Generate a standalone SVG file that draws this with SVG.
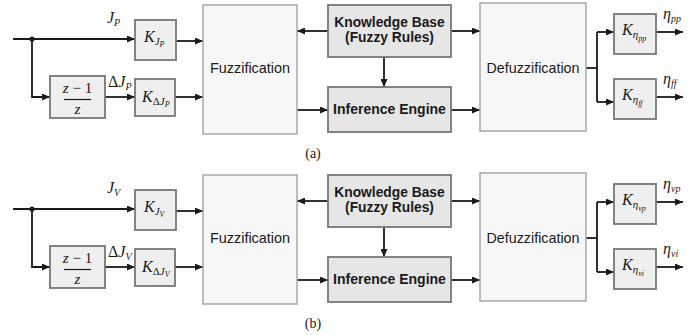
<svg xmlns="http://www.w3.org/2000/svg" width="692" height="335" viewBox="0 0 692 335">
<style>
.bg{fill:#ffffff}
.big{fill:#f7f7f7;stroke:#a8a8a8;stroke-width:1.5}
.mid{fill:#e6e6e6;stroke:#777;stroke-width:1.8}
.gain{fill:#efefef;stroke:#777;stroke-width:1.8}
.ln{fill:none;stroke:#1a1a1a;stroke-width:1.8}
.sans{font-family:"Liberation Sans",Arial,sans-serif;fill:#1a1a1a}
.bold{font-family:"Liberation Sans",Arial,sans-serif;font-weight:bold;fill:#1a1a1a}
.math{font-family:"Liberation Serif","Times New Roman",serif;font-style:italic;fill:#1a1a1a}
.cap{font-family:"Liberation Serif","Times New Roman",serif;fill:#1a1a1a;font-size:14px}
</style>
<defs>
<marker id="ah" markerWidth="8" markerHeight="7" refX="8" refY="3.5" orient="auto" markerUnits="userSpaceOnUse">
<path d="M0,0 L8,3.5 L0,7 z" fill="#1a1a1a"/>
</marker>
</defs>
<rect class="bg" x="0" y="0" width="692" height="335"/>

<g id="panel-a">
<g id="connectors-a">
<path class="ln" d="M13,39 H135" marker-end="url(#ah)"/>
<circle cx="32" cy="39" r="2.6" fill="#1a1a1a"/>
<path class="ln" d="M32,39 V97 H50" marker-end="url(#ah)"/>
<path class="ln" d="M105,97 H135" marker-end="url(#ah)"/>
<path class="ln" d="M176,41 H203" marker-end="url(#ah)"/>
<path class="ln" d="M175,97 H203" marker-end="url(#ah)"/>
<path class="ln" d="M328,31 H297" marker-end="url(#ah)"/>
<path class="ln" d="M451,31 H480" marker-end="url(#ah)"/>
<path class="ln" d="M384,57 V87" marker-end="url(#ah)"/>
<path class="ln" d="M297,110 H328" marker-end="url(#ah)"/>
<path class="ln" d="M451,110 H480" marker-end="url(#ah)"/>
<path class="ln" d="M586,68 H597"/>
<path class="ln" d="M597,32 V102"/>
<path class="ln" d="M597,32 H614" marker-end="url(#ah)"/>
<path class="ln" d="M597,102 H614" marker-end="url(#ah)"/>
<path class="ln" d="M656,32 H683" marker-end="url(#ah)"/>
<path class="ln" d="M656,97 H683" marker-end="url(#ah)"/>
</g>
<g id="lbl-jp"><text class="math" x="107" y="23" font-size="16">J<tspan font-size="10" dy="3">P</tspan></text></g>
<g id="lbl-djp"><text class="math" x="108" y="87" font-size="16"><tspan font-style="normal">Δ</tspan>J<tspan font-size="10" dy="3">P</tspan></text></g>
<g id="lbl-etapp"><text class="math" x="663" y="19" font-size="16">η<tspan font-size="10" dy="3">pp</tspan></text></g>
<g id="lbl-etaff"><text class="math" x="663" y="84" font-size="16">η<tspan font-size="10" dy="3">ff</tspan></text></g>

<g id="k-jp"><rect class="gain" x="135" y="20" width="41" height="40"/>
<text class="math" x="144" y="42" font-size="16">K<tspan font-size="11" dy="3">J</tspan><tspan font-size="8" dy="2">P</tspan></text></g>
<g id="zdiff-a"><rect class="gain" x="50" y="76" width="55" height="42"/>
<text class="math" x="77.5" y="93" font-size="15" text-anchor="middle">z<tspan font-style="normal"> − 1</tspan></text>
<line x1="64" y1="99.5" x2="91" y2="99.5" stroke="#1a1a1a" stroke-width="1.2"/>
<text class="math" x="77.5" y="114" font-size="15" text-anchor="middle">z</text></g>
<g id="k-djp"><rect class="gain" x="135" y="79" width="40" height="37"/>
<text class="math" x="142" y="102" font-size="16">K<tspan font-size="11" dy="3" font-style="normal">Δ</tspan><tspan font-size="11">J</tspan><tspan font-size="8" dy="2">P</tspan></text></g>
<g id="fuzz-a"><rect class="big" x="203" y="5" width="94" height="129"/>
<text class="sans" x="250" y="73" font-size="14.4" text-anchor="middle">Fuzzification</text></g>
<g id="kb-a"><rect class="mid" x="328" y="5" width="123" height="52"/>
<text class="bold" x="389.5" y="27" font-size="13.8" text-anchor="middle">Knowledge Base</text>
<text class="bold" x="389.5" y="42" font-size="13.8" text-anchor="middle">(Fuzzy Rules)</text></g>
<g id="ie-a"><rect class="mid" x="328" y="87" width="123" height="45"/>
<text class="bold" x="389.5" y="114" font-size="14" text-anchor="middle">Inference Engine</text></g>
<g id="defuzz-a"><rect class="big" x="480" y="3" width="106" height="128"/>
<text class="sans" x="533" y="73" font-size="14.3" text-anchor="middle">Defuzzification</text></g>
<g id="k-etapp"><rect class="gain" x="614" y="14" width="42" height="40"/>
<text class="math" x="622" y="35" font-size="16">K<tspan font-size="11" dy="3">η</tspan><tspan font-size="8" dy="3">pp</tspan></text></g>
<g id="k-etaff"><rect class="gain" x="614" y="79" width="42" height="40"/>
<text class="math" x="622" y="100" font-size="16">K<tspan font-size="11" dy="3">η</tspan><tspan font-size="8" dy="3">ff</tspan></text></g>
<text class="cap" x="313" y="158" text-anchor="middle">(a)</text>
</g>

<g id="panel-b" transform="translate(0,170)">
<g id="connectors-b">
<path class="ln" d="M13,39 H135" marker-end="url(#ah)"/>
<circle cx="32" cy="39" r="2.6" fill="#1a1a1a"/>
<path class="ln" d="M32,39 V97 H50" marker-end="url(#ah)"/>
<path class="ln" d="M105,97 H135" marker-end="url(#ah)"/>
<path class="ln" d="M176,41 H203" marker-end="url(#ah)"/>
<path class="ln" d="M175,97 H203" marker-end="url(#ah)"/>
<path class="ln" d="M328,31 H297" marker-end="url(#ah)"/>
<path class="ln" d="M451,31 H480" marker-end="url(#ah)"/>
<path class="ln" d="M384,57 V87" marker-end="url(#ah)"/>
<path class="ln" d="M297,110 H328" marker-end="url(#ah)"/>
<path class="ln" d="M451,110 H480" marker-end="url(#ah)"/>
<path class="ln" d="M586,68 H597"/>
<path class="ln" d="M597,32 V102"/>
<path class="ln" d="M597,32 H614" marker-end="url(#ah)"/>
<path class="ln" d="M597,102 H614" marker-end="url(#ah)"/>
<path class="ln" d="M656,32 H683" marker-end="url(#ah)"/>
<path class="ln" d="M656,97 H683" marker-end="url(#ah)"/>
</g>
<g id="lbl-jv"><text class="math" x="107" y="23" font-size="16">J<tspan font-size="10" dy="3">V</tspan></text></g>
<g id="lbl-djv"><text class="math" x="108" y="87" font-size="16"><tspan font-style="normal">Δ</tspan>J<tspan font-size="10" dy="3">V</tspan></text></g>
<g id="lbl-etavp"><text class="math" x="663" y="19" font-size="16">η<tspan font-size="10" dy="3">vp</tspan></text></g>
<g id="lbl-etavi"><text class="math" x="663" y="84" font-size="16">η<tspan font-size="10" dy="3">vi</tspan></text></g>

<g id="k-jv"><rect class="gain" x="135" y="20" width="41" height="40"/>
<text class="math" x="144" y="42" font-size="16">K<tspan font-size="11" dy="3">J</tspan><tspan font-size="8" dy="2">V</tspan></text></g>
<g id="zdiff-b"><rect class="gain" x="50" y="76" width="55" height="42"/>
<text class="math" x="77.5" y="93" font-size="15" text-anchor="middle">z<tspan font-style="normal"> − 1</tspan></text>
<line x1="64" y1="99.5" x2="91" y2="99.5" stroke="#1a1a1a" stroke-width="1.2"/>
<text class="math" x="77.5" y="114" font-size="15" text-anchor="middle">z</text></g>
<g id="k-djv"><rect class="gain" x="135" y="79" width="40" height="37"/>
<text class="math" x="142" y="102" font-size="16">K<tspan font-size="11" dy="3" font-style="normal">Δ</tspan><tspan font-size="11">J</tspan><tspan font-size="8" dy="2">V</tspan></text></g>
<g id="fuzz-b"><rect class="big" x="203" y="5" width="94" height="129"/>
<text class="sans" x="250" y="73" font-size="14.4" text-anchor="middle">Fuzzification</text></g>
<g id="kb-b"><rect class="mid" x="328" y="5" width="123" height="52"/>
<text class="bold" x="389.5" y="27" font-size="13.8" text-anchor="middle">Knowledge Base</text>
<text class="bold" x="389.5" y="42" font-size="13.8" text-anchor="middle">(Fuzzy Rules)</text></g>
<g id="ie-b"><rect class="mid" x="328" y="87" width="123" height="45"/>
<text class="bold" x="389.5" y="114" font-size="14" text-anchor="middle">Inference Engine</text></g>
<g id="defuzz-b"><rect class="big" x="480" y="3" width="106" height="128"/>
<text class="sans" x="533" y="73" font-size="14.3" text-anchor="middle">Defuzzification</text></g>
<g id="k-etavp"><rect class="gain" x="614" y="14" width="42" height="40"/>
<text class="math" x="622" y="35" font-size="16">K<tspan font-size="11" dy="3">η</tspan><tspan font-size="8" dy="3">vp</tspan></text></g>
<g id="k-etavi"><rect class="gain" x="614" y="79" width="42" height="40"/>
<text class="math" x="622" y="100" font-size="16">K<tspan font-size="11" dy="3">η</tspan><tspan font-size="8" dy="3">vi</tspan></text></g>
<text class="cap" x="313" y="158" text-anchor="middle">(b)</text>
</g>
</svg>
